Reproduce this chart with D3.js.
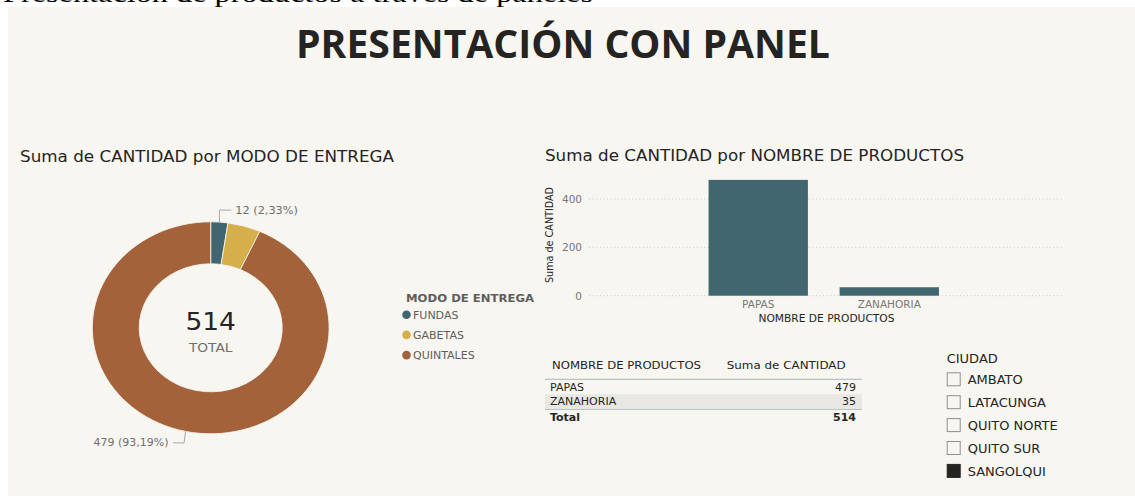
<!DOCTYPE html>
<html lang="es">
<head>
<meta charset="utf-8">
<title>Presentación con panel</title>
<script src="https://cdn.jsdelivr.net/npm/d3@7"></script>
<style>
  html, body { margin: 0; padding: 0; background: #ffffff; overflow: hidden; }
  svg { display: block; }
</style>
</head>
<body>
<svg id="panel" width="1135" height="496"></svg>
<script>
// ---- datos ----
const modos = ["FUNDAS", "GABETAS", "QUINTALES"];
const modoValores = [12, 23, 479];
const modoEtiquetados = [true, false, true];

const productos = ["PAPAS", "ZANAHORIA"];
const productoValores = [479, 35];
const yTicks = [0, 200, 400];

const ciudades = ["AMBATO", "LATACUNGA", "QUITO NORTE", "QUITO SUR", "SANGOLQUI"];
const ciudadSeleccion = [false, false, false, false, true];

// ---- estilos ----
const colores = ["#41666f", "#d5af4b", "#a3623a"];
const fondo = "#f7f6f1";
const sans = "'DejaVu Sans', Verdana, sans-serif";

const svg = d3.select("#panel");

// ajusta el ancho de un texto al espacio que ocupa en el lienzo
function fit(sel, w) {
  return sel.attr("textLength", w).attr("lengthAdjust", "spacingAndGlyphs");
}

// encabezado del documento (recortado por el panel)
fit(svg.append("text")
  .attr("x", 3).attr("y", 2)
  .attr("font-family", "'Liberation Serif', 'Times New Roman', serif")
  .attr("font-size", 26).attr("fill", "#000")
  .text("Presentación de productos a través de paneles"), 590);

// fondo del panel
svg.append("rect")
  .attr("x", 8).attr("y", 7).attr("width", 1127).attr("height", 489)
  .attr("fill", fondo);

// título principal
fit(svg.append("text")
  .attr("x", 296).attr("y", 58)
  .attr("font-family", "'Open Sans', sans-serif")
  .attr("font-weight", 700).attr("font-size", 40).attr("fill", "#252423")
  .text("PRESENTACIÓN CON PANEL"), 534);

// títulos de los visuales
fit(svg.append("text")
  .attr("x", 20).attr("y", 161.5)
  .attr("font-family", sans).attr("font-size", 15).attr("fill", "#252423")
  .text("Suma de CANTIDAD por MODO DE ENTREGA"), 374);

fit(svg.append("text")
  .attr("x", 545).attr("y", 161)
  .attr("font-family", sans).attr("font-size", 15).attr("fill", "#252423")
  .text("Suma de CANTIDAD por NOMBRE DE PRODUCTOS"), 419);

// ---- anillo por modo de entrega ----
const total = d3.sum(modoValores);
const cx = 210.7, cy = 327.8, sx = 1.117;
const rOut = 106, rIn = 64;

const pie = d3.pie().sort(null).value(d => d.v);
const arcos = pie(modos.map((m, i) => ({ m, v: modoValores[i], i })));
const arc = d3.arc().innerRadius(rIn).outerRadius(rOut);

const dona = svg.append("g").attr("transform", `translate(${cx},${cy}) scale(${sx},1)`);
dona.selectAll("path").data(arcos).join("path")
  .attr("d", arc)
  .attr("fill", d => colores[d.data.i])
  .attr("stroke", fondo).attr("stroke-width", 0.8);

fit(svg.append("text")
  .attr("x", cx).attr("y", 330).attr("text-anchor", "middle")
  .attr("font-family", sans).attr("font-size", 24).attr("fill", "#252423")
  .text(d3.format(",")(total)), 50.5);
fit(svg.append("text")
  .attr("x", cx).attr("y", 351.7).attr("text-anchor", "middle")
  .attr("font-family", sans).attr("font-size", 11.5).attr("fill", "#6f6f6f")
  .text("TOTAL"), 43.4);

// etiquetas con línea guía
const pct = v => (v / total * 100).toFixed(2).replace(".", ",") + "%";
arcos.forEach(d => {
  if (!modoEtiquetados[d.data.i]) return;
  const a = (d.startAngle + d.endAngle) / 2;
  const px = cx + sx * rOut * Math.sin(a);
  const py = cy - rOut * Math.cos(a);
  const derecha = Math.sin(a) >= 0;
  const arriba = Math.cos(a) >= 0;
  const ky = arriba ? py - 12 : py + 11.5;
  const kx = px + (derecha ? 0 : -1.5);
  const ex = derecha ? kx + 12 : kx - 11;
  svg.append("polyline")
    .attr("points", `${px},${py} ${kx},${ky} ${ex},${ky}`)
    .attr("fill", "none").attr("stroke", "#a8a8a8").attr("stroke-width", 1);
  const etiqueta = `${d.data.v} (${pct(d.data.v)})`;
  fit(svg.append("text")
    .attr("x", derecha ? ex + 4 : ex - 4.5).attr("y", ky + 3.5)
    .attr("text-anchor", derecha ? "start" : "end")
    .attr("font-family", sans).attr("font-size", 10.5).attr("fill", "#6f6f6f")
    .text(etiqueta), etiqueta.length * 6.25);
});

// leyenda
fit(svg.append("text")
  .attr("x", 406).attr("y", 302)
  .attr("font-family", sans).attr("font-weight", 700).attr("font-size", 10.5).attr("fill", "#605e5c")
  .text("MODO DE ENTREGA"), 128);
const leyenda = svg.append("g");
modos.forEach((m, i) => {
  const y = 314.7 + i * 20.2;
  leyenda.append("circle").attr("cx", 406.5).attr("cy", y).attr("r", 4.3).attr("fill", colores[i]);
  leyenda.append("text")
    .attr("x", 413).attr("y", y + 4)
    .attr("font-family", sans).attr("font-size", 11).attr("fill", "#605e5c")
    .text(m);
});

// ---- columnas por producto ----
const x = d3.scaleBand().domain(productos).range([692.7, 954.8])
  .paddingInner(0.242).paddingOuter(0.121);
const y = d3.scaleLinear().domain([0, 500]).range([295.7, 174.8]);

// cuadrícula punteada
svg.append("g").selectAll("line").data(yTicks).join("line")
  .attr("x1", 589).attr("x2", 1062)
  .attr("y1", d => y(d)).attr("y2", d => y(d))
  .attr("stroke", "#c9c9c9").attr("stroke-width", 1)
  .attr("stroke-dasharray", "1,2.6");

// eje Y
const ejeY = svg.append("g").attr("transform", "translate(582,0)")
  .call(d3.axisLeft(y).tickValues(yTicks).tickSize(0).tickPadding(0));
ejeY.select(".domain").remove();
ejeY.selectAll("text")
  .attr("font-family", sans).attr("font-size", 10.5).attr("fill", "#777777");

fit(svg.append("text")
  .attr("transform", "translate(552.5,235) rotate(-90)")
  .attr("text-anchor", "middle")
  .attr("font-family", sans).attr("font-size", 10).attr("fill", "#252423")
  .text("Suma de CANTIDAD"), 96);

// barras
svg.append("g").selectAll("rect").data(productos).join("rect")
  .attr("x", d => x(d)).attr("width", x.bandwidth())
  .attr("y", (d, i) => y(productoValores[i]))
  .attr("height", (d, i) => y(0) - y(productoValores[i]))
  .attr("fill", colores[0]);

// eje X
const ejeX = svg.append("g").attr("transform", `translate(0,${y(0)})`)
  .call(d3.axisBottom(x).tickSize(0).tickPadding(0));
ejeX.select(".domain").remove();
ejeX.selectAll("text")
  .attr("dy", 0).attr("y", 12.6)
  .attr("font-family", sans).attr("font-size", 10.5).attr("fill", "#777777");

fit(svg.append("text")
  .attr("x", 826.5).attr("y", 321.7).attr("text-anchor", "middle")
  .attr("font-family", sans).attr("font-size", 10.5).attr("fill", "#252423")
  .text("NOMBRE DE PRODUCTOS"), 136);

// ---- tabla ----
const tabla = svg.append("g").attr("font-family", sans).attr("font-size", 11).attr("fill", "#252423");
fit(tabla.append("text").attr("x", 552).attr("y", 368.5).text("NOMBRE DE PRODUCTOS"), 149);
fit(tabla.append("text").attr("x", 726.7).attr("y", 368.5).text("Suma de CANTIDAD"), 119);
tabla.append("line").attr("x1", 545).attr("x2", 862).attr("y1", 379.3).attr("y2", 379.3)
  .attr("stroke", "#a9b7bb").attr("stroke-width", 1);

productos.forEach((p, i) => {
  const base = 391 + i * 14;
  if (i % 2 === 1) {
    tabla.append("rect").attr("x", 545).attr("y", base - 10.7).attr("width", 317).attr("height", 14)
      .attr("fill", "#e9e7e2");
  }
  tabla.append("text").attr("x", 550).attr("y", base).text(p);
  tabla.append("text").attr("x", 856).attr("y", base).attr("text-anchor", "end").text(productoValores[i]);
});
tabla.append("line").attr("x1", 545).attr("x2", 862).attr("y1", 409.3).attr("y2", 409.3)
  .attr("stroke", "#a9b7bb").attr("stroke-width", 1);
tabla.append("text").attr("x", 550).attr("y", 421).attr("font-weight", 700).text("Total");
tabla.append("text").attr("x", 856).attr("y", 421).attr("text-anchor", "end").attr("font-weight", 700)
  .text(d3.sum(productoValores));

// ---- segmentación por ciudad ----
const seg = svg.append("g").attr("font-family", sans).attr("font-size", 13).attr("fill", "#252423");
seg.append("text").attr("x", 946.7).attr("y", 363.3).text("CIUDAD");
ciudades.forEach((c, i) => {
  const cyRow = 379.3 + i * 22.9;
  seg.append("rect")
    .attr("x", 947.2).attr("y", cyRow - 6.5).attr("width", 13).attr("height", 13)
    .attr("fill", ciudadSeleccion[i] ? "#252423" : "none")
    .attr("stroke", ciudadSeleccion[i] ? "#252423" : "#8f8f8f").attr("stroke-width", 1);
  seg.append("text").attr("x", 967.7).attr("y", cyRow + 4.7).text(c);
});
</script>
</body>
</html>
